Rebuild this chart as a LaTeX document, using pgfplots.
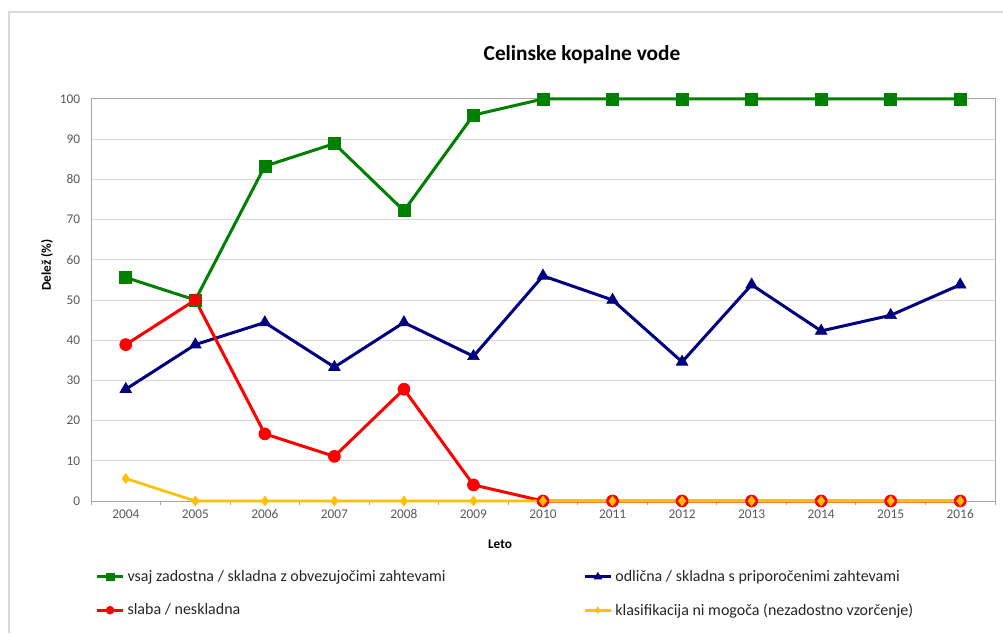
\documentclass[border=0pt]{standalone}
\usepackage{fontspec}
\setmainfont{Carlito}
\usepackage{pgfplots}
\pgfplotsset{compat=1.18}
\definecolor{cgreen}{HTML}{008000}
\definecolor{cred}{HTML}{FF0000}
\definecolor{cblue}{HTML}{000080}
\definecolor{cyel}{HTML}{FFC000}
\definecolor{gridc}{HTML}{D9D9D9}
\definecolor{axisc}{HTML}{A6A6A6}
\definecolor{tickc}{HTML}{595959}
\begin{document}
\begin{tikzpicture}[x=0.75pt,y=0.75pt]
\path[use as bounding box] (0,0) rectangle (1003,633);
\draw[color=gridc, line width=1.5pt] (9,0) -- (9,621) -- (1003,621);
\coordinate (A) at (91,132);
\node[font=\bfseries\fontsize{16}{19}\selectfont] at (582,578) {Celinske kopalne vode};
\node[font=\bfseries\fontsize{10}{12}\selectfont, rotate=90] at (47,368) {Delež (\%)};
\node[font=\bfseries\fontsize{10}{12}\selectfont] at (500,89) {Leto};
\begin{axis}[
  at={(A)}, anchor=south west, scale only axis,
  width=678pt, height=301.5pt,
  xmin=-0.5, xmax=12.5, ymin=0, ymax=100,
  xtick={-0.5,0.5,...,12.5},
  x tick label as interval,
  xticklabels={2004,2005,2006,2007,2008,2009,2010,2011,2012,2013,2014,2015,2016},
  ytick={0,10,...,100},
  xtick pos=bottom,
  tick align=outside,
  major tick length=3pt,
  ytick style={draw=none},
  xtick style={axisc, line width=0.75pt},
  ymajorgrids, grid style={gridc, line width=0.75pt},
  axis line style={axisc, line width=0.75pt},
  /pgf/number format/assume math mode=true,
  ticklabel style={font=\fontsize{10}{12}\selectfont, text=tickc},
  yticklabel style={inner sep=0pt, xshift=-5pt},
  clip=false,
  legend columns=2,
  legend cell align=left,
  legend style={draw=none, fill=none, at={(0.0044,-0.165)}, anchor=north west,
    font=\fontsize{12}{14}\selectfont, text=black!85, inner sep=0pt,
    row sep=11pt,
    /tikz/every even column/.append style={column sep=101pt}},
  legend image code/.code={\draw[#1, every mark/.append style={scale=0.65}, mark repeat=2, mark phase=2] plot coordinates {(0pt,0pt) (10pt,0pt) (20pt,0pt)};},
]
\addplot[cgreen, line width=2.25pt, mark=square*, mark size=4.5pt, mark options={fill=cgreen, draw=cgreen, line width=0.5pt}] coordinates {
(0,55.6) (1,50) (2,83.3) (3,88.9) (4,72.2) (5,96) (6,100) (7,100) (8,100) (9,100) (10,100) (11,100) (12,100)};
\addlegendentry{vsaj zadostna / skladna z obvezujočimi zahtevami}
\addplot[cblue, line width=2.25pt, mark=triangle*, mark size=5pt, mark options={fill=cblue, draw=cblue, line width=0.5pt}] coordinates {
(0,27.8) (1,38.9) (2,44.4) (3,33.3) (4,44.4) (5,36) (6,56) (7,50) (8,34.6) (9,53.8) (10,42.3) (11,46.2) (12,53.8)};
\addlegendentry{odlična / skladna s priporočenimi zahtevami}
\addplot[cred, line width=2.25pt, mark=*, mark size=4.5pt, mark options={fill=cred, draw=cred, line width=0.5pt}] coordinates {
(0,38.9) (1,50) (2,16.7) (3,11.1) (4,27.8) (5,4) (6,0) (7,0) (8,0) (9,0) (10,0) (11,0) (12,0)};
\addlegendentry{slaba / neskladna}
\addplot[cyel, line width=2pt, mark=diamond*, mark size=3.6pt, mark options={fill=cyel, draw=cyel, line width=0.5pt}] coordinates {
(0,5.6) (1,0) (2,0) (3,0) (4,0) (5,0) (6,0) (7,0) (8,0) (9,0) (10,0) (11,0) (12,0)};
\addlegendentry{klasifikacija ni mogoča (nezadostno vzorčenje)}
\end{axis}
\end{tikzpicture}
\end{document}
